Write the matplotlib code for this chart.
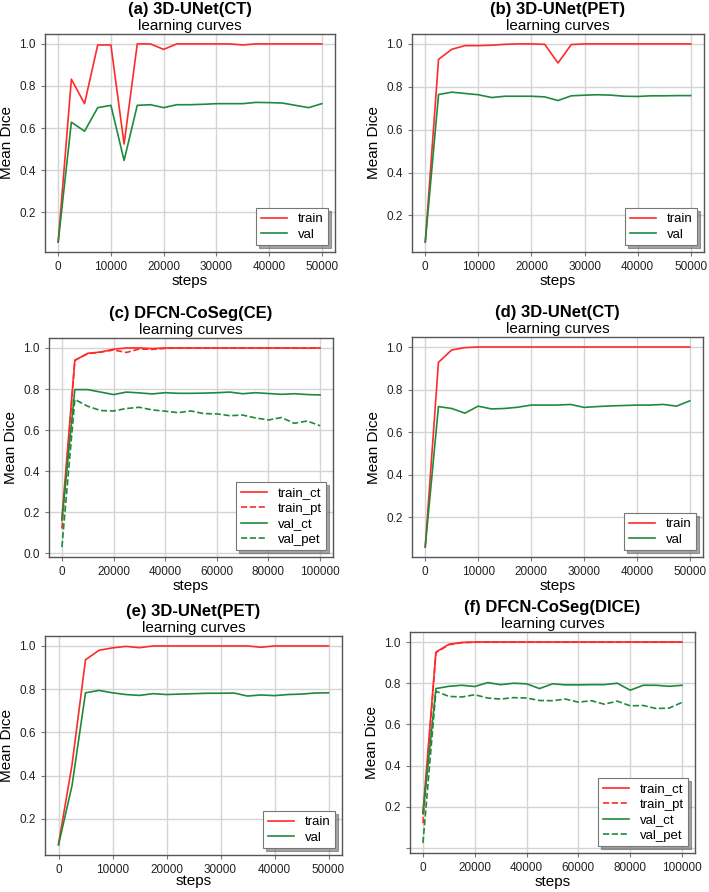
import numpy as np
import matplotlib
matplotlib.use("Agg")
import matplotlib.pyplot as plt

plt.rcParams['font.family'] = ['Liberation Sans', 'DejaVu Sans']

# ---- data ----
steps_50k = np.arange(0, 50001, 2500)
steps_100k = np.arange(0, 100001, 5000)

# (a) 3D-UNet(CT)
a_train = [0.058, 0.832, 0.716, 0.995, 0.995, 0.524, 1.0, 1.0, 0.974, 1.0, 1.0,
           1.0, 1.0, 1.0, 0.995, 1.0, 1.0, 1.0, 1.0, 1.0, 1.0]
a_val = [0.058, 0.628, 0.585, 0.697, 0.708, 0.446, 0.708, 0.711, 0.697, 0.711, 0.711,
         0.713, 0.716, 0.716, 0.716, 0.722, 0.721, 0.719, 0.708, 0.697, 0.716]

# (b) 3D-UNet(PET)
b_train = [0.076, 0.928, 0.975, 0.992, 0.992, 0.994, 0.998, 1.0, 1.0, 0.998, 0.911,
           0.997, 1.0, 1.0, 1.0, 1.0, 1.0, 1.0, 1.0, 1.0, 1.0]
b_val = [0.076, 0.764, 0.775, 0.769, 0.763, 0.750, 0.756, 0.756, 0.756, 0.753, 0.736,
         0.758, 0.761, 0.763, 0.761, 0.756, 0.755, 0.758, 0.758, 0.759, 0.759]

# (c) DFCN-CoSeg(CE)
c_train_ct = [0.17, 0.939, 0.974, 0.98, 0.994, 1.0, 1.0, 0.997, 1.0, 1.0, 1.0,
              1.0, 1.0, 1.0, 1.0, 1.0, 1.0, 1.0, 1.0, 0.999, 1.0]
c_train_pt = [0.12, 0.94, 0.972, 0.98, 0.99, 0.978, 0.995, 0.993, 0.998, 1.0, 1.0,
              1.0, 1.0, 1.0, 1.0, 1.0, 1.0, 1.0, 1.0, 1.0, 1.0]
c_val_ct = [0.16, 0.797, 0.797, 0.785, 0.773, 0.785, 0.781, 0.776, 0.782, 0.779, 0.779,
            0.780, 0.782, 0.785, 0.777, 0.782, 0.778, 0.774, 0.777, 0.773, 0.771]
c_val_pet = [0.03, 0.749, 0.716, 0.695, 0.693, 0.705, 0.711, 0.698, 0.692, 0.685, 0.693,
             0.680, 0.679, 0.670, 0.673, 0.659, 0.649, 0.661, 0.633, 0.644, 0.621]

# (d) 3D-UNet(CT)
d_train = [0.06, 0.928, 0.986, 0.997, 1.0, 1.0, 1.0, 1.0, 1.0, 1.0, 1.0,
           1.0, 1.0, 1.0, 1.0, 1.0, 1.0, 1.0, 1.0, 1.0, 1.0]
d_val = [0.06, 0.720, 0.711, 0.689, 0.722, 0.709, 0.711, 0.717, 0.727, 0.727, 0.727,
         0.730, 0.716, 0.720, 0.723, 0.725, 0.727, 0.727, 0.730, 0.722, 0.747]

# (e) 3D-UNet(PET)
e_train = [0.082, 0.449, 0.936, 0.98, 0.991, 0.998, 0.992, 1.0, 1.0, 1.0, 1.0,
           1.0, 1.0, 1.0, 1.0, 0.994, 1.0, 1.0, 1.0, 1.0, 1.0]
e_val = [0.078, 0.353, 0.783, 0.794, 0.783, 0.775, 0.771, 0.779, 0.775, 0.777, 0.779,
         0.781, 0.781, 0.782, 0.768, 0.773, 0.770, 0.775, 0.777, 0.782, 0.783]

# (f) DFCN-CoSeg(DICE)
f_train_ct = [0.17, 0.951, 0.989, 0.998, 1.0, 1.0, 1.0, 1.0, 1.0, 1.0, 1.0,
              1.0, 1.0, 1.0, 1.0, 1.0, 1.0, 1.0, 1.0, 1.0, 1.0]
f_train_pt = [0.12, 0.948, 0.987, 0.997, 0.999, 1.0, 1.0, 1.0, 1.0, 1.0, 1.0,
              1.0, 1.0, 1.0, 1.0, 1.0, 1.0, 1.0, 1.0, 1.0, 1.0]
f_val_ct = [0.167, 0.774, 0.785, 0.790, 0.784, 0.803, 0.793, 0.800, 0.797, 0.774, 0.797,
            0.792, 0.792, 0.793, 0.793, 0.800, 0.766, 0.790, 0.790, 0.785, 0.790]
f_val_pet = [0.024, 0.761, 0.736, 0.733, 0.744, 0.728, 0.723, 0.730, 0.728, 0.716, 0.715,
             0.723, 0.708, 0.715, 0.698, 0.713, 0.690, 0.692, 0.677, 0.679, 0.707]

RED = '#ff2a2a'
GREEN = '#1f8a3c'

W, H = 709, 892
fig = plt.figure(figsize=(W / 100, H / 100), dpi=100)


def make_axes(l, t, r, b):
    return fig.add_axes([l / W, 1 - b / H, (r - l) / W, (b - t) / H])


def style_axes(ax, name):
    ax.grid(True, color='#d4d4d4', linewidth=1.0)
    ax.set_axisbelow(True)
    for sp in ax.spines.values():
        sp.set_color('#555555')
        sp.set_linewidth(1.0)
    ax.tick_params(labelsize=8.5, colors='#222222', length=3, width=0.8)
    ax.tick_params(axis='both', color='#777777')
    ax.set_xlabel('steps', fontsize=11, labelpad=1)
    ax.set_ylabel('Mean Dice', fontsize=11)
    ax.set_title('learning curves', fontsize=11, pad=3)
    ax.annotate(name, xy=(0.5, 1), xycoords='axes fraction', xytext=(0, 12.5),
                textcoords='offset points', ha='center', va='bottom',
                fontsize=12, fontweight='bold')
    leg = ax.legend(loc='lower right', fontsize=9.5, shadow=True, fancybox=False,
                    framealpha=1, edgecolor='#777777', borderpad=0.35,
                    handlelength=2.0, labelspacing=0.25)
    leg.get_frame().set_linewidth(0.8)


def simple_panel(ax, x, train, val, name):
    ax.plot(x, train, color=RED, lw=1.2, label='train')
    ax.plot(x, val, color=GREEN, lw=1.2, label='val')
    style_axes(ax, name)


def coseg_panel(ax, x, trc, trp, vac, vap, name):
    ax.plot(x, trc, color=RED, lw=1.2, label='train_ct')
    ax.plot(x, trp, color=RED, lw=1.2, ls='--', label='train_pt')
    ax.plot(x, vac, color=GREEN, lw=1.2, label='val_ct')
    ax.plot(x, vap, color=GREEN, lw=1.2, ls='--', label='val_pet')
    style_axes(ax, name)


ax_a = make_axes(45, 34, 335, 252)
simple_panel(ax_a, steps_50k, a_train, a_val, '(a) 3D-UNet(CT)')

ax_b = make_axes(412, 34, 704, 252)
simple_panel(ax_b, steps_50k, b_train, b_val, '(b) 3D-UNet(PET)')

ax_c = make_axes(49, 338, 333, 557)
coseg_panel(ax_c, steps_100k, c_train_ct, c_train_pt, c_val_ct, c_val_pet,
            '(c) DFCN-CoSeg(CE)')

ax_d = make_axes(412, 337, 703, 557)
simple_panel(ax_d, steps_50k, d_train, d_val, '(d) 3D-UNet(CT)')

ax_e = make_axes(45, 636, 342, 855)
simple_panel(ax_e, steps_50k, e_train, e_val, '(e) 3D-UNet(PET)')
ax_e.xaxis.labelpad = -1.5

ax_f = make_axes(410, 632, 695, 853)
coseg_panel(ax_f, steps_100k, f_train_ct, f_train_pt, f_val_ct, f_val_pet,
            '(f) DFCN-CoSeg(DICE)')
ax_f.set_yticks([0.0, 0.2, 0.4, 0.6, 0.8, 1.0])
ax_f.set_yticklabels(['', '0.2', '0.4', '0.6', '0.8', '1.0'])

fig.savefig('out.png', dpi=100)
